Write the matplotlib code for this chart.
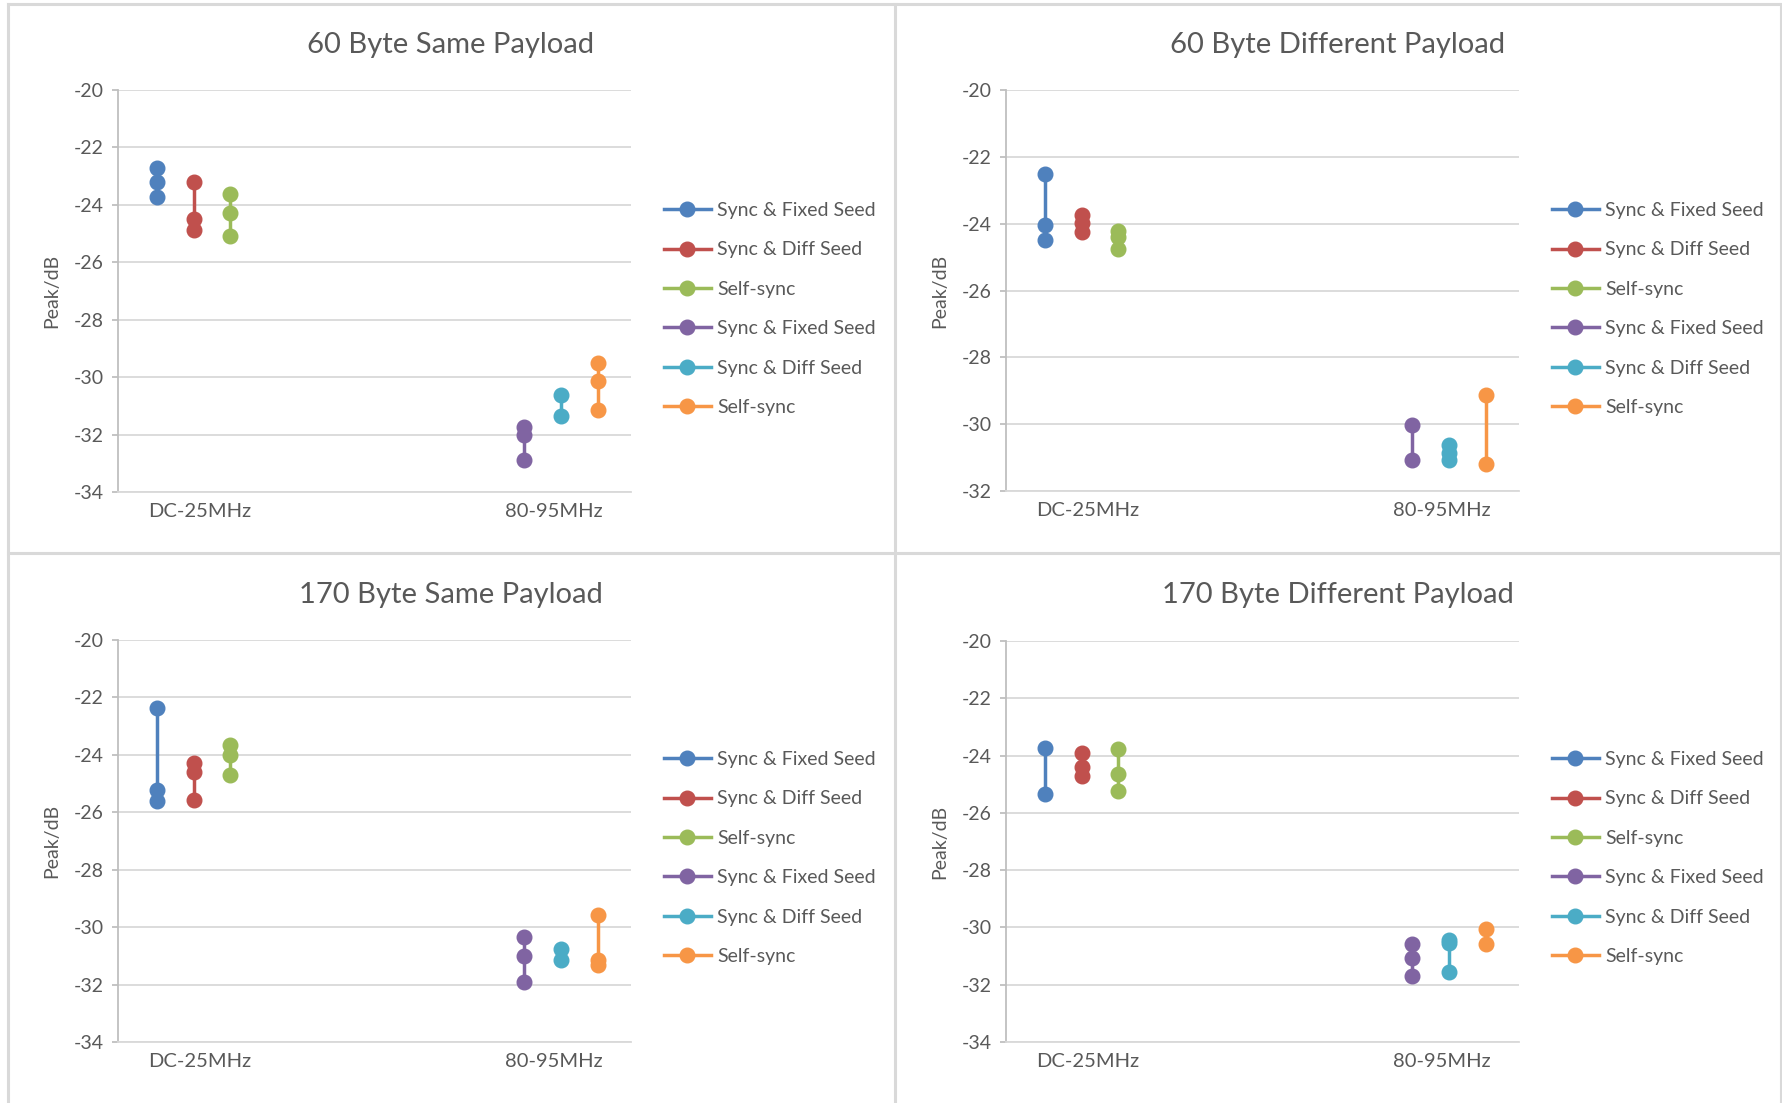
import matplotlib
matplotlib.use('Agg')
import matplotlib.pyplot as plt
from matplotlib.lines import Line2D

W, H = 1783, 1103
plt.rcParams['font.family'] = ['Lato', 'DejaVu Sans']
plt.rcParams['axes.unicode_minus'] = False
TXT = '#595959'
GRID = '#D9D9D9'

# ---- data (peak levels in dB) ----
BANDS = ['DC-25MHz', '80-95MHz']
SERIES = ['Sync & Fixed Seed', 'Sync & Diff Seed', 'Self-sync',
          'Sync & Fixed Seed', 'Sync & Diff Seed', 'Self-sync']
COLORS = ['#4F81BD', '#C0504D', '#9BBB59', '#8064A2', '#4BACC6', '#F79646']

same_60 = [[-22.71, -23.20, -23.72], [-23.22, -24.49, -24.86], [-23.62, -24.28, -25.10],
           [-31.74, -32.03, -32.88], [-30.62, -31.37], [-29.51, -30.12, -31.16]]
diff_60 = [[-22.52, -24.05, -24.49], [-23.75, -23.97, -24.25], [-24.23, -24.41, -24.76],
           [-30.03, -31.07], [-30.63, -30.85, -31.07], [-29.13, -31.20]]
same_170 = [[-22.36, -25.24, -25.60], [-24.27, -24.59, -25.56], [-23.64, -23.99, -24.71],
            [-30.33, -31.00, -31.90], [-30.77, -31.16], [-29.58, -31.16, -31.31]]
diff_170 = [[-23.73, -25.33], [-23.92, -24.40, -24.72], [-23.77, -24.63, -25.22],
            [-30.57, -31.08, -31.70], [-30.45, -30.55, -31.56], [-30.05, -30.57]]

TITLES = ['60 Byte Same Payload', '60 Byte Different Payload',
          '170 Byte Same Payload', '170 Byte Different Payload']
PANELS = [same_60, diff_60, same_170, diff_170]
YMIN = [-34, -32, -34, -34]

# ---- layout (pixels of the 1783x1103 picture) ----
SLOT = [0, 1, 2, 10, 11, 12]
CAT_POS = [1.17, 10.8]
AX_BOX = [(118, 631, 90, 492), (1006, 1519, 90, 491),
          (118, 631, 640, 1042), (1006, 1519, 641, 1042)]
TITLE_XY = [(451, 45), (1338, 45), (451, 595), (1338, 595)]
LEG_XY = [(664, 309), (1552, 309), (664, 858), (1552, 858)]

fig = plt.figure(figsize=(W / 100, H / 100), dpi=100)

# panel frames
for (x0, x1, y0, y1) in [(8, 1781, 4, 4), (8, 8, 4, H), (1781, 1781, 4, H),
                         (895, 895, 4, H), (8, 1781, 553, 553)]:
    fig.add_artist(Line2D([x0 / W, x1 / W], [1 - y0 / H, 1 - y1 / H],
                          transform=fig.transFigure, color=GRID, lw=2.2))

for k, data in enumerate(PANELS):
    l, r, t, b = AX_BOX[k]
    ax = fig.add_axes([l / W, 1 - b / H, (r - l) / W, (b - t) / H])
    handles = []
    for i, vals in enumerate(data):
        h, = ax.plot([SLOT[i]] * len(vals), vals, '-o', color=COLORS[i], lw=2.5,
                     markersize=10.5, label=SERIES[i], zorder=3)
        handles.append(h)
    ax.set_xlim(-1.06, 12.9)
    ax.set_ylim(YMIN[k], -20)
    ax.set_yticks(range(YMIN[k], -19, 2))
    ax.set_xticks(CAT_POS)
    ax.set_xticklabels(BANDS)
    ax.grid(axis='y', color=GRID, lw=1.3, zorder=0)
    for s in ['top', 'right']:
        ax.spines[s].set_visible(False)
    ax.spines['bottom'].set_color(GRID)
    ax.spines['bottom'].set_linewidth(1.3)
    ax.spines['left'].set_color('#BFBFBF')
    ax.spines['left'].set_linewidth(1.3)
    ax.tick_params(axis='y', colors='#BFBFBF', labelcolor=TXT, labelsize=14,
                   length=4.5, width=1.3, pad=6)
    ax.tick_params(axis='x', length=0, labelcolor=TXT, labelsize=14.5, pad=8)
    ax.set_ylabel('Peak/dB', color=TXT, fontsize=14)
    ax.yaxis.set_label_coords(-0.113, 0.5)

    tx, ty = TITLE_XY[k]
    fig.text(tx / W, 1 - ty / H, TITLES[k], ha='center', va='center',
             fontsize=21, color=TXT)

    lx, ly = LEG_XY[k]
    leg = fig.legend(handles=handles, loc='center left',
                     bbox_to_anchor=(lx / W, 1 - ly / H), frameon=False,
                     fontsize=14, handlelength=2.4, handletextpad=0.35,
                     labelspacing=1.15, borderpad=0, borderaxespad=0, numpoints=1)
    for txt in leg.get_texts():
        txt.set_color(TXT)

fig.savefig('out.png', dpi=100, facecolor='white')
